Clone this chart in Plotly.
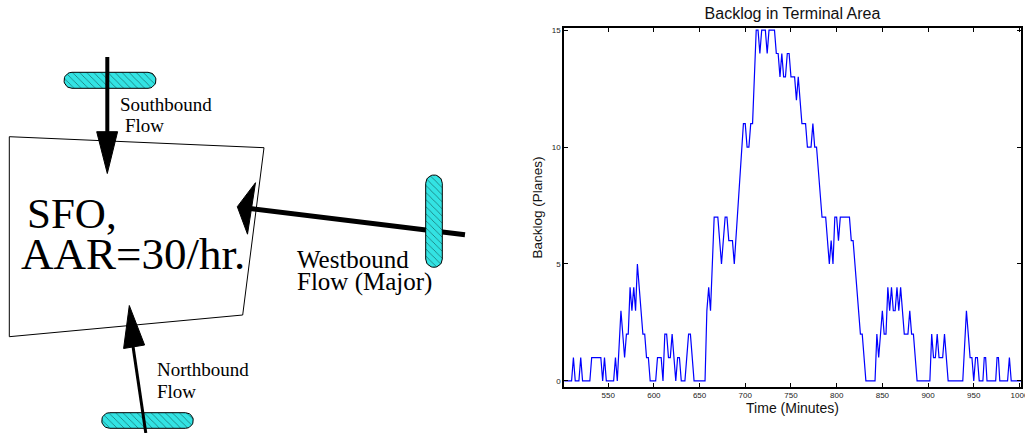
import math
import plotly.graph_objects as go

W, H = 1025, 433

# ---------------- data ----------------
time_min = [502, 510, 512, 514, 518, 520, 522, 530, 532, 542, 544, 546, 548, 556, 558, 560,
            564, 568, 570, 572, 574, 576, 578, 580, 582, 588, 590, 592, 594, 596, 602, 604,
            608, 610, 612, 614, 616, 618, 620, 624, 626, 628, 630, 634, 638, 640, 644, 656,
            658, 660, 662, 666, 670, 674, 678, 680, 682, 686, 688, 698, 700, 702, 704, 706,
            708, 712, 714, 716, 718, 722, 724, 726, 732, 734, 736, 738, 740, 742, 744, 746,
            748, 750, 754, 756, 758, 762, 766, 768, 772, 774, 776, 778, 784, 788, 792, 794,
            796, 798, 800, 802, 804, 814, 816, 818, 826, 828, 832, 842, 844, 846, 850, 852,
            854, 856, 858, 860, 862, 864, 866, 868, 870, 874, 878, 880, 882, 884, 888, 902,
            904, 906, 908, 910, 912, 916, 918, 922, 938, 942, 946, 948, 950, 952, 954, 956,
            960, 961.5, 963, 964.5, 974, 975.5, 977, 978.5, 987, 989, 991, 1001.7]
backlog_planes = [0, 0, 1, 0, 0, 1, 0, 0, 1, 1, 0, 1, 0, 0, 1, 0,
                  3, 1, 2, 2, 4, 3, 4, 3, 5, 2, 2, 1, 1, 0, 0, 1,
                  1, 0, 2, 2, 1, 1, 2, 0, 1, 1, 0, 0, 2, 2, 0, 0,
                  3, 4, 3, 7, 7, 5, 7, 7, 6, 6, 5, 11, 11, 10, 10, 11,
                  11, 15, 15, 14, 15, 15, 14, 15, 15, 14, 14, 13, 14, 13, 13, 14,
                  14, 13, 13, 12, 13, 11, 11, 10, 10, 11, 10, 10, 7, 7, 5, 6,
                  5, 7, 7, 6, 7, 7, 6, 6, 2, 2, 0, 0, 2, 1, 3, 2,
                  2, 4, 3, 4, 3, 3, 4, 3, 4, 2, 2, 3, 2, 2, 0, 0,
                  2, 1, 1, 2, 1, 1, 2, 0, 0, 3, 1, 1, 0, 1, 1, 0,
                  0, 1, 1, 0, 0, 1, 1, 0, 0, 1, 0, 0]
x_ticks = [550, 600, 650, 700, 750, 800, 850, 900, 950, 1000]
y_ticks = [0, 5, 10, 15]
x_range = [501.7, 1001.7]
y_range = [-0.26, 15.09]

chart_title = "Backlog in Terminal Area"
x_title = "Time (Minutes)"
y_title = "Backlog (Planes)"

# ---------------- diagram geometry (pixel space of left panel) ----------------
box_pts = [(9.3, 136.7), (264, 147.7), (242.7, 315), (9.3, 336.7), (9.3, 136.7)]
pills = [(64, 72.3, 156, 88.3), (425.7, 175, 442.3, 267.3), (101.7, 412.7, 193.3, 428.3)]
shafts = [((107.3, 57), (107.3, 140), 4), ((465, 234.8), (250, 208.6), 5), ((145.8, 433), (132.8, 345), 3)]
heads = [[(96.7, 131.7), (117.6, 131.7), (107.3, 173.5)],
         [(237.3, 206.7), (255.5, 182.7), (247.5, 234.2)],
         [(129.3, 305.5), (123.6, 348.5), (144.6, 345)]]
texts = [("Southbound", 117.5, 104, 19), ("Flow", 122.5, 125, 19),
         ("Westbound", 295, 259, 25), ("Flow (Major)", 295, 282, 25),
         ("Northbound", 154.5, 369, 19), ("Flow", 154.5, 391.5, 19),
         ("SFO,", 25, 213, 43), ("AAR=30/hr.", 19, 254, 45)]


def stadium(x0, y0, x1, y1, n=18):
    pts = []
    if (x1 - x0) >= (y1 - y0):
        r = (y1 - y0) / 2
        cy = (y0 + y1) / 2
        for i in range(n + 1):
            a = -math.pi / 2 + math.pi * i / n
            pts.append((x1 - r + r * math.cos(a), cy + r * math.sin(a)))
        for i in range(n + 1):
            a = math.pi / 2 + math.pi * i / n
            pts.append((x0 + r + r * math.cos(a), cy + r * math.sin(a)))
    else:
        r = (x1 - x0) / 2
        cx = (x0 + x1) / 2
        for i in range(n + 1):
            a = math.pi + math.pi * i / n
            pts.append((cx + r * math.cos(a), y0 + r + r * math.sin(a)))
        for i in range(n + 1):
            a = math.pi * i / n
            pts.append((cx + r * math.cos(a), y1 - r + r * math.sin(a)))
    pts.append(pts[0])
    return [p[0] for p in pts], [p[1] for p in pts]


fig = go.Figure()

# chart line
fig.add_trace(go.Scatter(x=time_min, y=backlog_planes, mode="lines",
                         line=dict(color="#0000ff", width=1.2),
                         xaxis="x", yaxis="y", showlegend=False, hoverinfo="skip"))

# diagram: box
fig.add_trace(go.Scatter(x=[p[0] for p in box_pts], y=[p[1] for p in box_pts], mode="lines",
                         line=dict(color="black", width=1), xaxis="x2", yaxis="y2",
                         showlegend=False, hoverinfo="skip"))

CYAN = "#33e3e3"


def add_pill(b):
    xs, ys = stadium(*b)
    fig.add_trace(go.Scatter(x=xs, y=ys, mode="lines", fill="toself", fillcolor=CYAN,
                             fillpattern=dict(shape="\\", bgcolor=CYAN, fgcolor="black",
                                              size=5, solidity=0.15),
                             line=dict(color="black", width=1), xaxis="x2", yaxis="y2",
                             showlegend=False, hoverinfo="skip"))


def add_arrow(k):
    (a, b, w) = shafts[k]
    fig.add_trace(go.Scatter(x=[a[0], b[0]], y=[a[1], b[1]], mode="lines",
                             line=dict(color="black", width=w), xaxis="x2", yaxis="y2",
                             showlegend=False, hoverinfo="skip"))
    h = heads[k] + [heads[k][0]]
    fig.add_trace(go.Scatter(x=[p[0] for p in h], y=[p[1] for p in h], mode="lines",
                             fill="toself", fillcolor="black", line=dict(color="black", width=1),
                             xaxis="x2", yaxis="y2", showlegend=False, hoverinfo="skip"))


add_pill(pills[0]); add_arrow(0)
add_arrow(1); add_pill(pills[1])
add_pill(pills[2]); add_arrow(2)

annotations = []
for t, x, y, s in texts:
    annotations.append(dict(text=t, x=x, y=y, xref="x2", yref="y2", xanchor="left",
                            yanchor="middle", showarrow=False,
                            font=dict(family="Liberation Serif", size=s, color="black")))

axis_common = dict(showline=True, linecolor="black", linewidth=1.5, mirror="ticks",
                   ticks="inside", ticklen=4, tickwidth=1, tickcolor="black",
                   showgrid=False, zeroline=False, automargin=False,
                   tickfont=dict(family="Liberation Sans", size=8, color="#222"))

fig.update_layout(
    width=W, height=H, margin=dict(l=0, r=0, t=0, b=0),
    paper_bgcolor="white", plot_bgcolor="white",
    font=dict(family="Liberation Sans", color="black"),
    title=dict(text=chart_title, x=792.5 / W, xref="paper", xanchor="center",
               y=1 - 13.5 / H, yref="paper", yanchor="middle",
               font=dict(family="Liberation Sans", size=16, color="#111")),
    xaxis=dict(domain=[564 / W, 1021 / W], range=x_range, tickvals=x_ticks,
               ticklabeloverflow="allow",
               title=dict(text=x_title, standoff=2,
                          font=dict(family="Liberation Sans", size=14, color="#111")),
               anchor="y", **axis_common),
    yaxis=dict(domain=[1 - 387 / H, 1 - 28 / H], range=y_range, tickvals=y_ticks,
               title=dict(text=y_title, standoff=6,
                          font=dict(family="Liberation Sans", size=13.5, color="#111")),
               anchor="x", **axis_common),
    xaxis2=dict(domain=[0, 512 / W], range=[0, 512], visible=False, fixedrange=True, anchor="y2"),
    yaxis2=dict(domain=[0, 1], range=[H, 0], visible=False, fixedrange=True, anchor="x2"),
    annotations=annotations,
    showlegend=False,
)

fig.write_html("out.html")
